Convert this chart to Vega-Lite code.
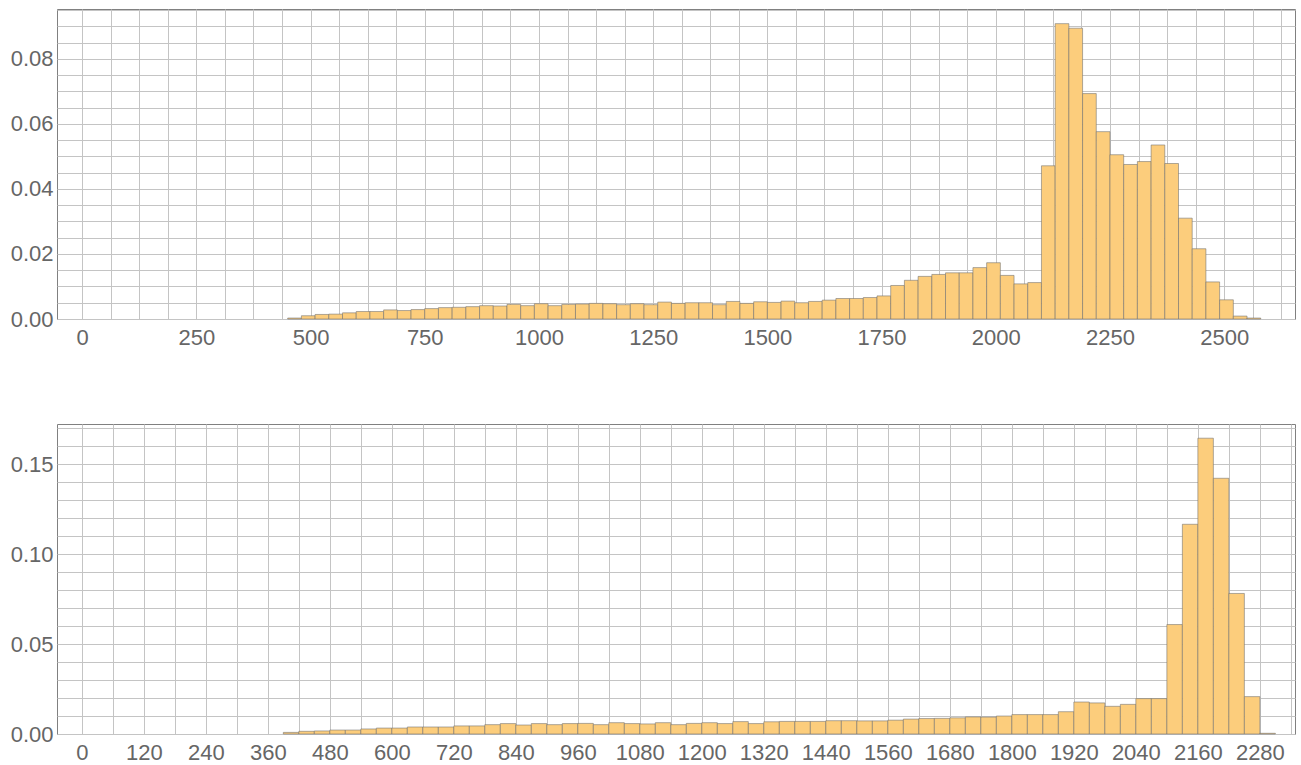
{
  "$schema": "https://vega.github.io/schema/vega-lite/v6.json",
  "background": "white",
  "padding": {"left": 9, "top": 8, "right": 7, "bottom": 5},
  "spacing": 105,
  "bounds": "flush",
  "config": {
    "view": {"stroke": "#808080", "strokeWidth": 1},
    "axis": {
      "labelFont": "Liberation Sans",
      "labelFontSize": 22,
      "labelColor": "#666666",
      "ticks": false,
      "domain": false,
      "gridColor": "#c4c4c4",
      "gridOpacity": 1,
      "gridWidth": 1,
      "title": null,
      "labelPadding": 4
    }
  },
  "datasets": {
    "top": [
      {"start": 450, "end": 480, "density": 0.0003},
      {"start": 480, "end": 510, "density": 0.0010},
      {"start": 510, "end": 540, "density": 0.0014},
      {"start": 540, "end": 570, "density": 0.0015},
      {"start": 570, "end": 600, "density": 0.0019},
      {"start": 600, "end": 630, "density": 0.0023},
      {"start": 630, "end": 660, "density": 0.0023},
      {"start": 660, "end": 690, "density": 0.0028},
      {"start": 690, "end": 720, "density": 0.0026},
      {"start": 720, "end": 750, "density": 0.0029},
      {"start": 750, "end": 780, "density": 0.0032},
      {"start": 780, "end": 810, "density": 0.0035},
      {"start": 810, "end": 840, "density": 0.0036},
      {"start": 840, "end": 870, "density": 0.0038},
      {"start": 870, "end": 900, "density": 0.0041},
      {"start": 900, "end": 930, "density": 0.0040},
      {"start": 930, "end": 960, "density": 0.0045},
      {"start": 960, "end": 990, "density": 0.0041},
      {"start": 990, "end": 1020, "density": 0.0047},
      {"start": 1020, "end": 1050, "density": 0.0041},
      {"start": 1050, "end": 1080, "density": 0.0045},
      {"start": 1080, "end": 1110, "density": 0.0046},
      {"start": 1110, "end": 1140, "density": 0.0048},
      {"start": 1140, "end": 1170, "density": 0.0047},
      {"start": 1170, "end": 1200, "density": 0.0044},
      {"start": 1200, "end": 1230, "density": 0.0047},
      {"start": 1230, "end": 1260, "density": 0.0044},
      {"start": 1260, "end": 1290, "density": 0.0052},
      {"start": 1290, "end": 1320, "density": 0.0048},
      {"start": 1320, "end": 1350, "density": 0.0050},
      {"start": 1350, "end": 1380, "density": 0.0050},
      {"start": 1380, "end": 1410, "density": 0.0044},
      {"start": 1410, "end": 1440, "density": 0.0054},
      {"start": 1440, "end": 1470, "density": 0.0048},
      {"start": 1470, "end": 1500, "density": 0.0053},
      {"start": 1500, "end": 1530, "density": 0.0051},
      {"start": 1530, "end": 1560, "density": 0.0055},
      {"start": 1560, "end": 1590, "density": 0.0050},
      {"start": 1590, "end": 1620, "density": 0.0054},
      {"start": 1620, "end": 1650, "density": 0.0058},
      {"start": 1650, "end": 1680, "density": 0.0063},
      {"start": 1680, "end": 1710, "density": 0.0063},
      {"start": 1710, "end": 1740, "density": 0.0066},
      {"start": 1740, "end": 1770, "density": 0.0071},
      {"start": 1770, "end": 1800, "density": 0.0103},
      {"start": 1800, "end": 1830, "density": 0.0119},
      {"start": 1830, "end": 1860, "density": 0.0131},
      {"start": 1860, "end": 1890, "density": 0.0137},
      {"start": 1890, "end": 1920, "density": 0.0142},
      {"start": 1920, "end": 1950, "density": 0.0142},
      {"start": 1950, "end": 1980, "density": 0.0158},
      {"start": 1980, "end": 2010, "density": 0.0173},
      {"start": 2010, "end": 2040, "density": 0.0134},
      {"start": 2040, "end": 2070, "density": 0.0108},
      {"start": 2070, "end": 2100, "density": 0.0112},
      {"start": 2100, "end": 2130, "density": 0.0471},
      {"start": 2130, "end": 2160, "density": 0.0908},
      {"start": 2160, "end": 2190, "density": 0.0894},
      {"start": 2190, "end": 2220, "density": 0.0693},
      {"start": 2220, "end": 2250, "density": 0.0576},
      {"start": 2250, "end": 2280, "density": 0.0505},
      {"start": 2280, "end": 2310, "density": 0.0475},
      {"start": 2310, "end": 2340, "density": 0.0484},
      {"start": 2340, "end": 2370, "density": 0.0535},
      {"start": 2370, "end": 2400, "density": 0.0478},
      {"start": 2400, "end": 2430, "density": 0.0310},
      {"start": 2430, "end": 2460, "density": 0.0216},
      {"start": 2460, "end": 2490, "density": 0.0114},
      {"start": 2490, "end": 2520, "density": 0.0059},
      {"start": 2520, "end": 2550, "density": 0.0009},
      {"start": 2550, "end": 2580, "density": 0.0003}
    ],
    "bottom": [
      {"start": 390, "end": 420, "density": 0.0009},
      {"start": 420, "end": 450, "density": 0.0015},
      {"start": 450, "end": 480, "density": 0.0017},
      {"start": 480, "end": 510, "density": 0.0022},
      {"start": 510, "end": 540, "density": 0.0022},
      {"start": 540, "end": 570, "density": 0.0028},
      {"start": 570, "end": 600, "density": 0.0033},
      {"start": 600, "end": 630, "density": 0.0033},
      {"start": 630, "end": 660, "density": 0.0039},
      {"start": 660, "end": 690, "density": 0.0039},
      {"start": 690, "end": 720, "density": 0.0039},
      {"start": 720, "end": 750, "density": 0.0045},
      {"start": 750, "end": 780, "density": 0.0045},
      {"start": 780, "end": 810, "density": 0.0052},
      {"start": 810, "end": 840, "density": 0.0058},
      {"start": 840, "end": 870, "density": 0.0050},
      {"start": 870, "end": 900, "density": 0.0058},
      {"start": 900, "end": 930, "density": 0.0052},
      {"start": 930, "end": 960, "density": 0.0058},
      {"start": 960, "end": 990, "density": 0.0059},
      {"start": 990, "end": 1020, "density": 0.0052},
      {"start": 1020, "end": 1050, "density": 0.0063},
      {"start": 1050, "end": 1080, "density": 0.0058},
      {"start": 1080, "end": 1110, "density": 0.0056},
      {"start": 1110, "end": 1140, "density": 0.0063},
      {"start": 1140, "end": 1170, "density": 0.0052},
      {"start": 1170, "end": 1200, "density": 0.0059},
      {"start": 1200, "end": 1230, "density": 0.0063},
      {"start": 1230, "end": 1260, "density": 0.0058},
      {"start": 1260, "end": 1290, "density": 0.0069},
      {"start": 1290, "end": 1320, "density": 0.0058},
      {"start": 1320, "end": 1350, "density": 0.0068},
      {"start": 1350, "end": 1380, "density": 0.0070},
      {"start": 1380, "end": 1410, "density": 0.0070},
      {"start": 1410, "end": 1440, "density": 0.0070},
      {"start": 1440, "end": 1470, "density": 0.0074},
      {"start": 1470, "end": 1500, "density": 0.0074},
      {"start": 1500, "end": 1530, "density": 0.0073},
      {"start": 1530, "end": 1560, "density": 0.0073},
      {"start": 1560, "end": 1590, "density": 0.0077},
      {"start": 1590, "end": 1620, "density": 0.0083},
      {"start": 1620, "end": 1650, "density": 0.0086},
      {"start": 1650, "end": 1680, "density": 0.0087},
      {"start": 1680, "end": 1710, "density": 0.0090},
      {"start": 1710, "end": 1740, "density": 0.0095},
      {"start": 1740, "end": 1770, "density": 0.0094},
      {"start": 1770, "end": 1800, "density": 0.0100},
      {"start": 1800, "end": 1830, "density": 0.0108},
      {"start": 1830, "end": 1860, "density": 0.0108},
      {"start": 1860, "end": 1890, "density": 0.0108},
      {"start": 1890, "end": 1920, "density": 0.0124},
      {"start": 1920, "end": 1950, "density": 0.0178},
      {"start": 1950, "end": 1980, "density": 0.0173},
      {"start": 1980, "end": 2010, "density": 0.0154},
      {"start": 2010, "end": 2040, "density": 0.0165},
      {"start": 2040, "end": 2070, "density": 0.0197},
      {"start": 2070, "end": 2100, "density": 0.0197},
      {"start": 2100, "end": 2130, "density": 0.0609},
      {"start": 2130, "end": 2160, "density": 0.1167},
      {"start": 2160, "end": 2190, "density": 0.1646},
      {"start": 2190, "end": 2220, "density": 0.1423},
      {"start": 2220, "end": 2250, "density": 0.0782},
      {"start": 2250, "end": 2280, "density": 0.0208},
      {"start": 2280, "end": 2310, "density": 0.0004}
    ]
  },
  "vconcat": [
    {
      "width": 1238,
      "height": 310,
      "data": {"name": "top"},
      "mark": {"type": "rect", "fill": "#fccd7c", "stroke": "#6e6e6e", "strokeOpacity": 0.55, "strokeWidth": 1},
      "encoding": {
        "x": {
          "field": "start",
          "type": "quantitative",
          "scale": {"domain": [-55, 2655], "nice": false, "zero": false},
          "axis": {
            "values": [0, 62.5, 125, 187.5, 250, 312.5, 375, 437.5, 500, 562.5, 625, 687.5, 750, 812.5, 875, 937.5, 1000, 1062.5, 1125, 1187.5, 1250, 1312.5, 1375, 1437.5, 1500, 1562.5, 1625, 1687.5, 1750, 1812.5, 1875, 1937.5, 2000, 2062.5, 2125, 2187.5, 2250, 2312.5, 2375, 2437.5, 2500, 2562.5, 2625],
            "labelExpr": "datum.value % 250 === 0 ? format(datum.value, 'd') : ''",
            "labelPadding": 8
          }
        },
        "x2": {"field": "end"},
        "y": {
          "field": "density",
          "type": "quantitative",
          "scale": {"domain": [0, 0.0953], "nice": false},
          "axis": {
            "values": [0, 0.005, 0.01, 0.015, 0.02, 0.025, 0.03, 0.035, 0.04, 0.045, 0.05, 0.055, 0.06, 0.065, 0.07, 0.075, 0.08, 0.085, 0.09, 0.095],
            "labelExpr": "round(datum.value * 1000) % 20 === 0 ? format(datum.value, '.2f') : ''"
          }
        },
        "y2": {"datum": 0}
      }
    },
    {
      "width": 1238,
      "height": 310,
      "data": {"name": "bottom"},
      "mark": {"type": "rect", "fill": "#fccd7c", "stroke": "#6e6e6e", "strokeOpacity": 0.55, "strokeWidth": 1},
      "encoding": {
        "x": {
          "field": "start",
          "type": "quantitative",
          "scale": {"domain": [-48, 2348], "nice": false, "zero": false},
          "axis": {
            "values": [0, 60, 120, 180, 240, 300, 360, 420, 480, 540, 600, 660, 720, 780, 840, 900, 960, 1020, 1080, 1140, 1200, 1260, 1320, 1380, 1440, 1500, 1560, 1620, 1680, 1740, 1800, 1860, 1920, 1980, 2040, 2100, 2160, 2220, 2280, 2340],
            "labelExpr": "datum.value % 120 === 0 ? format(datum.value, 'd') : ''",
            "labelPadding": 8
          }
        },
        "x2": {"field": "end"},
        "y": {
          "field": "density",
          "type": "quantitative",
          "scale": {"domain": [0, 0.1725], "nice": false},
          "axis": {
            "values": [0, 0.01, 0.02, 0.03, 0.04, 0.05, 0.06, 0.07, 0.08, 0.09, 0.1, 0.11, 0.12, 0.13, 0.14, 0.15, 0.16, 0.17],
            "labelExpr": "round(datum.value * 100) % 5 === 0 ? format(datum.value, '.2f') : ''"
          }
        },
        "y2": {"datum": 0}
      }
    }
  ]
}
